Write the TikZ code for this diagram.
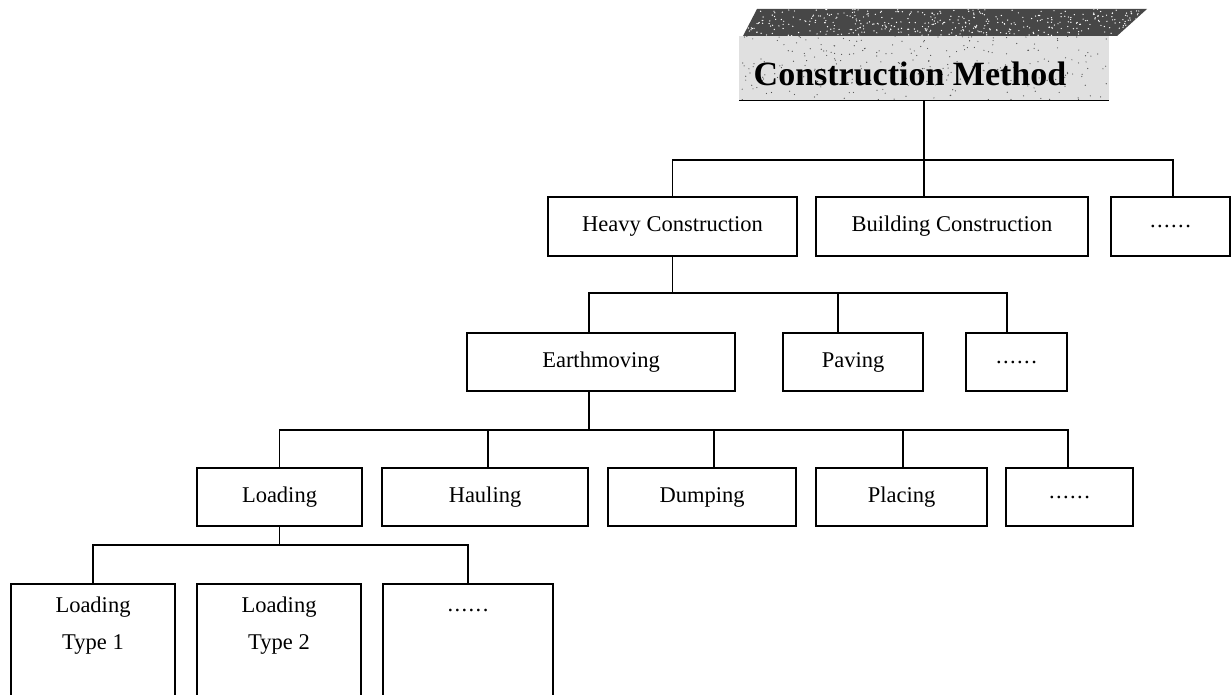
\documentclass[tikz,border=0pt]{standalone}
\usepackage{fontspec}
\setmainfont{Liberation Serif}
\newcommand{\moredots}{.\kern1.4pt.\kern1.4pt.\kern1.4pt.\kern1.4pt.\kern1.4pt.}
\begin{document}
\begin{tikzpicture}[x=1pt,y=-1pt,
  box/.style={draw, line width=1.6pt, inner sep=0pt, font=\fontsize{22.5}{27}\selectfont},
  leafbox/.style={draw, line width=1.6pt, inner sep=0pt, anchor=north,
                  minimum width=164pt, minimum height=140pt},
  leaftext/.style={font=\fontsize{22.5}{37}\selectfont, align=center, inner sep=0pt, anchor=north},
  link/.style={line width=1.6pt}]
\useasboundingbox (0,0) rectangle (1231,695);

% ---- title block: dark slanted top face over a light front face ----
\fill[black!72] (743,36) -- (1117,36) -- (1147,9) -- (757,9) -- cycle;
\begin{scope}
  \clip (743,36) -- (1117,36) -- (1147,9) -- (757,9) -- cycle;
  \pgfmathsetseed{3}
  \foreach \k in {1,...,420}{\fill[white] (740+410*rnd, 9+27*rnd) circle (0.7pt);}
\end{scope}
\node[fill=black!12, minimum width=370pt, minimum height=64pt, inner sep=0pt] (cm) at (924,68) {};
\begin{scope}
  \clip (cm.south west) rectangle (cm.north east);
  \pgfmathsetseed{11}
  \foreach \k in {1,...,260}{\fill[black!70] (740+370*rnd, 36+64*rnd) circle (0.6pt);}
\end{scope}
\draw[line width=1.2pt] (cm.south west) -- (cm.south east);
\node[font=\bfseries\fontsize{34}{38}\selectfont, anchor=base, inner sep=0pt] (cmtext) at (910,86) {Construction Method};

% ---- level 1 ----
\coordinate (bus1) at (0,160);
\node[box, minimum width=249pt, minimum height=59pt] (heavy) at (672.5,226.5) {Heavy Construction};
\node[box, minimum width=272pt, minimum height=59pt] (building) at (952,226.5) {Building Construction};
\node[box, minimum width=119pt, minimum height=59pt] (more1) at (1170.5,226.5) {\moredots};
\draw[link] (cm.south) -- (cm.south |- bus1);
\draw[link] (heavy.north) |- ([xshift=2.5pt]more1.north |- bus1) -- ([xshift=2.5pt]more1.north);
\draw[link] ([xshift=-28pt]building.north) -- ([xshift=-28pt]building.north |- bus1);

% ---- level 2 ----
\coordinate (bus2) at (0,293);
\node[box, minimum width=268pt, minimum height=58pt] (earth) at (601,362) {Earthmoving};
\node[box, minimum width=140pt, minimum height=58pt] (paving) at (853,362) {Paving};
\node[box, minimum width=101pt, minimum height=58pt] (more2) at (1016.5,362) {\moredots};
\draw[link] (heavy.south) -- (heavy.south |- bus2);
\draw[link] ([xshift=-12pt]earth.north) |- ([xshift=-9.5pt]more2.north |- bus2) -- ([xshift=-9.5pt]more2.north);
\draw[link] ([xshift=-15pt]paving.north) -- ([xshift=-15pt]paving.north |- bus2);

% ---- level 3 ----
\coordinate (bus3) at (0,430);
\node[box, minimum width=165pt, minimum height=58pt] (loading) at (279.5,497) {Loading};
\node[box, minimum width=206pt, minimum height=58pt] (hauling) at (485,497) {Hauling};
\node[box, minimum width=188pt, minimum height=58pt] (dumping) at (702,497) {Dumping};
\node[box, minimum width=171pt, minimum height=58pt] (placing) at (901.5,497) {Placing};
\node[box, minimum width=127pt, minimum height=58pt] (more3) at (1069.5,497) {\moredots};
\draw[link] ([xshift=-12pt]earth.south) -- ([xshift=-12pt]earth.south |- bus3);
\draw[link] (loading.north) |- ([xshift=-1.5pt]more3.north |- bus3) -- ([xshift=-1.5pt]more3.north);
\draw[link] ([xshift=3pt]hauling.north) -- ([xshift=3pt]hauling.north |- bus3);
\draw[link] ([xshift=12pt]dumping.north) -- ([xshift=12pt]dumping.north |- bus3);
\draw[link] ([xshift=1.5pt]placing.north) -- ([xshift=1.5pt]placing.north |- bus3);

% ---- level 4 (boxes run past the lower edge) ----
\coordinate (bus4) at (0,545);
\node[leafbox] (type1) at (93,583) {};
\node[leafbox] (type2) at (279,583) {};
\node[leafbox, minimum width=170pt] (more4) at (468,583) {};
\node[leaftext] (type1text) at ([yshift=-14pt]type1.north) {Loading\\Type 1};
\node[leaftext] (type2text) at ([yshift=-14pt]type2.north) {Loading\\Type 2};
\node[leaftext] (more4text) at ([yshift=-26pt]more4.north) {\moredots};
\draw[link] (loading.south) -- (loading.south |- bus4);
\draw[link] (type1.north) |- (more4.north |- bus4) -- (more4.north);
\end{tikzpicture}
\end{document}
